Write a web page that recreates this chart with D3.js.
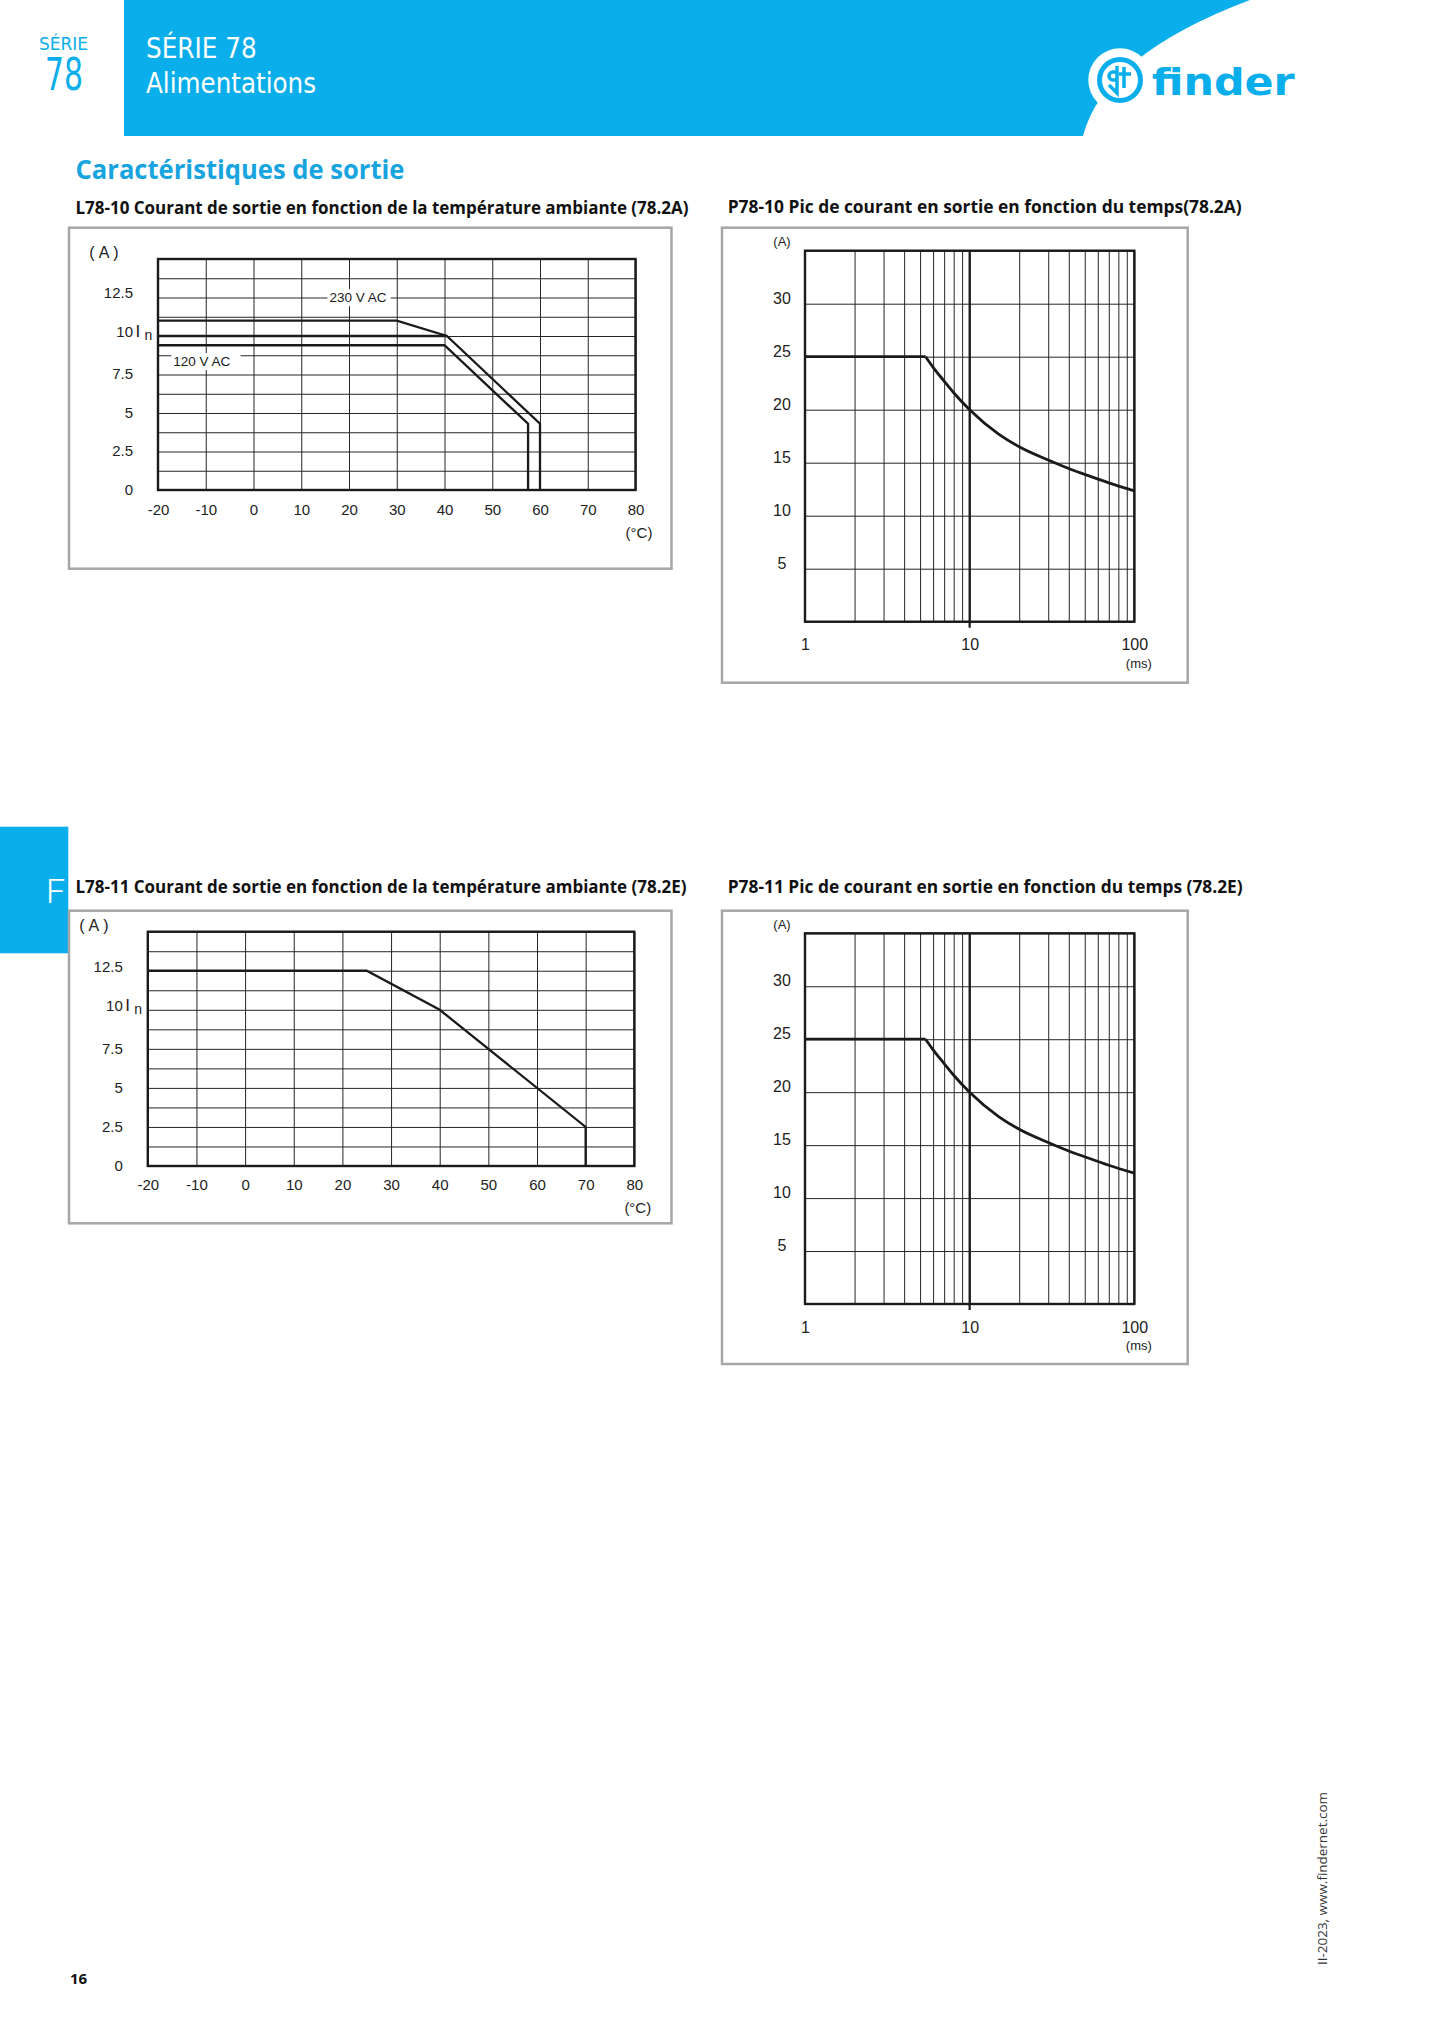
<!DOCTYPE html>
<html>
<head>
<meta charset="utf-8">
<script src="https://cdn.jsdelivr.net/npm/d3@7"></script>
<style>
  body { margin: 0; background: #fff; }
  svg { display: block; }
</style>
</head>
<body>
<svg id="page" width="1442" height="2040"></svg>
<script>
// ---- data ----
const tempTicks = [-20, -10, 0, 10, 20, 30, 40, 50, 60, 70, 80];
const ampLabels = [0, 2.5, 5, 7.5, 10, 12.5];
const ampGrid = [0, 1.25, 2.5, 3.75, 5, 6.25, 7.5, 8.75, 10, 11.25, 12.5, 13.75, 15];

// L78-10 (78.2A) derating curves, [°C, A]
const l7810Ac230 = [[-20, 11], [30, 11], [40.5, 10], [60, 4.3], [60, 0]];
const l7810Nominal = [[-20, 10], [40.5, 10]];
const l7810Ac120 = [[-20, 9.4], [40, 9.4], [57.5, 4.3], [57.5, 0]];

// L78-11 (78.2E) derating curve
const l7811Curve = [[-20, 12.5], [25, 12.5], [40, 10], [70, 2.5], [70, 0]];

// P78-10 / P78-11 peak current vs time, [ms, A]
const timeTicks = [1, 10, 100];
const timeGrid = [1, 2, 3, 4, 5, 6, 7, 8, 9, 10, 20, 30, 40, 50, 60, 70, 80, 90, 100];
const peakLabels = [5, 10, 15, 20, 25, 30];
const peakGrid = [0, 5, 10, 15, 20, 25, 30, 35];
const peakFlat = [[1, 25], [5.4, 25]];
const peakDecay = [[5.4, 25], [6, 24], [7, 22.7], [8, 21.6], [10, 20], [15, 17.7], [20, 16.5],
                   [30, 15.25], [40, 14.45], [50, 13.9], [70, 13.1], [100, 12.35]];

const BLUE = "#0aaeea";
const TITLE_BLUE = "#17a4df";
const FRAME = "#a6a6a6";
const GRID = "#262626";
const INK = "#1a1a1a";
const ARIAL = "'Liberation Sans', Arial, sans-serif";
const MYRIAD = "'Open Sans', 'Noto Sans', sans-serif";
const DIN = "'Liberation Sans Narrow', 'DejaVu Sans Condensed', 'Roboto', sans-serif";

const page = d3.select("#page");

// ---- header ----
page.append("path")
  .attr("d", "M124,0 H1250 Q1104,55 1083,136 H124 Z")
  .attr("fill", BLUE);

page.append("text").attr("x", 63.5).attr("y", 50)
  .attr("text-anchor", "middle").attr("font-family", DIN).attr("font-size", 18)
  .attr("fill", BLUE).attr("textLength", 49).attr("lengthAdjust", "spacingAndGlyphs")
  .text("SÉRIE");
page.append("text").attr("x", 64).attr("y", 90)
  .attr("text-anchor", "middle").attr("font-family", DIN).attr("font-size", 44)
  .attr("fill", BLUE).attr("textLength", 38).attr("lengthAdjust", "spacingAndGlyphs")
  .text("78");

page.append("text").attr("x", 146).attr("y", 58.3)
  .attr("font-family", DIN).attr("font-size", 28).attr("fill", "#fff")
  .attr("textLength", 110.7).attr("lengthAdjust", "spacingAndGlyphs")
  .text("SÉRIE 78");
page.append("text").attr("x", 146).attr("y", 93.3)
  .attr("font-family", DIN).attr("font-size", 28).attr("fill", "#fff")
  .attr("textLength", 170).attr("lengthAdjust", "spacingAndGlyphs")
  .text("Alimentations");

// finder logo
page.append("circle").attr("cx", 1120).attr("cy", 80).attr("r", 31.7).attr("fill", "#fff");
page.append("circle").attr("cx", 1120).attr("cy", 80).attr("r", 20.5)
  .attr("fill", "none").attr("stroke", BLUE).attr("stroke-width", 5);
page.append("path")
  .attr("d", "M1117,66 V93 L1109,85 M1117,72 H1113 A4,4 0 0 0 1113,80 H1117 M1124,67 V88 M1119,74 H1131")
  .attr("fill", "none").attr("stroke", BLUE).attr("stroke-width", 3.5);
page.append("text").attr("x", 1151.7).attr("y", 95)
  .attr("font-family", "'DejaVu Sans', sans-serif").attr("font-weight", "bold")
  .attr("font-size", 38).attr("fill", BLUE)
  .attr("textLength", 143).attr("lengthAdjust", "spacingAndGlyphs")
  .text("finder");

// section title
page.append("text").attr("x", 75.5).attr("y", 179.3)
  .attr("font-family", MYRIAD).attr("font-weight", "bold").attr("font-size", 27)
  .attr("fill", TITLE_BLUE).attr("textLength", 329).attr("lengthAdjust", "spacingAndGlyphs")
  .text("Caractéristiques de sortie");

// side tab "F"
page.append("rect").attr("x", 0).attr("y", 826.7).attr("width", 68.3).attr("height", 126.6).attr("fill", BLUE);
page.append("text").attr("x", 46).attr("y", 902.7)
  .attr("font-family", "Roboto, 'Open Sans', sans-serif").attr("font-weight", 300)
  .attr("font-size", 34).attr("fill", "#fff").text("F");

// footer
page.append("text").attr("x", 70).attr("y", 1984)
  .attr("font-family", MYRIAD).attr("font-weight", "bold").attr("font-size", 15)
  .attr("fill", "#111").text("16");
page.append("text")
  .attr("transform", "translate(1327,1965) rotate(-90)")
  .attr("font-family", MYRIAD).attr("font-size", 12.5).attr("fill", "#333")
  .attr("textLength", 173).attr("lengthAdjust", "spacingAndGlyphs")
  .text("II-2023, www.findernet.com");

function chartTitle(x, y, w, txt) {
  page.append("text").attr("x", x).attr("y", y)
    .attr("font-family", MYRIAD).attr("font-weight", "bold").attr("font-size", 17)
    .attr("fill", "#111").attr("textLength", w).attr("lengthAdjust", "spacingAndGlyphs")
    .text(txt);
}

function outerBox(b) {
  page.append("rect").attr("x", b[0]).attr("y", b[1])
    .attr("width", b[2] - b[0]).attr("height", b[3] - b[1])
    .attr("fill", "#fff").attr("stroke", FRAME).attr("stroke-width", 2.5);
}

function gridLines(g, axis, tx, ty) {
  g.append("g").attr("transform", `translate(${tx},${ty})`)
    .call(axis)
    .call(a => a.select(".domain").remove())
    .call(a => a.selectAll("text").remove())
    .call(a => a.selectAll("line").attr("stroke", GRID).attr("stroke-width", 1));
}

const plain = d => String(d);   // hyphen minus, like the datasheet

// ---- temperature derating chart ----
function drawTempChart(o) {
  outerBox(o.box);
  const p = o.plot;
  const g = page.append("g");
  const x = d3.scaleLinear().domain([tempTicks[0], tempTicks[tempTicks.length - 1]]).range([p.l, p.r]);
  const y = d3.scaleLinear().domain([0, ampGrid[ampGrid.length - 1]]).range([p.b, p.t]);

  gridLines(g, d3.axisLeft(y).tickValues(ampGrid).tickSize(-(p.r - p.l)).tickFormat(""), p.l, 0);
  gridLines(g, d3.axisBottom(x).tickValues(tempTicks).tickSize(-(p.b - p.t)).tickFormat(""), 0, p.b);

  // curve labels sitting on white boxes
  (o.labels || []).forEach(l => {
    const t = g.append("text")
      .attr("x", x(l.t)).attr("y", y(l.a)).attr("dy", "0.35em")
      .attr("font-family", ARIAL).attr("font-size", 13.5).attr("fill", INK)
      .text(l.text);
    const bb = t.node().getBBox();
    g.insert("rect", () => t.node())
      .attr("x", bb.x - l.pad[0]).attr("y", bb.y - 1)
      .attr("width", bb.width + l.pad[0] + l.pad[1]).attr("height", bb.height + 2)
      .attr("fill", "#fff");
  });

  const line = d3.line().x(d => x(d[0])).y(d => y(d[1]));
  o.curves.forEach(c => {
    g.append("path").datum(c)
      .attr("d", line).attr("fill", "none")
      .attr("stroke", INK).attr("stroke-width", 2.3).attr("stroke-linejoin", "miter");
  });

  g.append("rect").attr("x", p.l).attr("y", p.t)
    .attr("width", p.r - p.l).attr("height", p.b - p.t)
    .attr("fill", "none").attr("stroke", INK).attr("stroke-width", 2.4);

  // tick labels
  const xa = g.append("g").attr("transform", `translate(0,${p.b})`)
    .call(d3.axisBottom(x).tickValues(tempTicks).tickSize(0).tickFormat(plain));
  xa.select(".domain").remove();
  xa.selectAll("text").attr("y", o.xLabelDy).attr("dy", null)
    .attr("font-family", ARIAL).attr("font-size", 15).attr("fill", "#222");

  const lift = d => (d >= 10 ? -5 : -1);
  const ya = g.append("g").attr("transform", `translate(${p.l},0)`)
    .call(d3.axisLeft(y).tickValues(ampLabels).tickSize(0).tickFormat(plain));
  ya.select(".domain").remove();
  ya.selectAll("text").attr("x", -25).attr("dy", "0.35em").attr("y", lift)
    .attr("font-family", ARIAL).attr("font-size", 15).attr("fill", "#222");
  // "10 In": nominal current marker next to the 10 A tick
  const inTick = ya.selectAll(".tick").filter(d => d === 10);
  inTick.append("text").attr("x", -22.5).attr("y", -5.5).attr("dy", "0.35em")
    .attr("text-anchor", "start")
    .attr("font-family", ARIAL).attr("font-size", 17).attr("fill", "#222").text("I");
  inTick.append("text").attr("x", -13.5).attr("y", -1).attr("dy", "0.35em")
    .attr("text-anchor", "start")
    .attr("font-family", ARIAL).attr("font-size", 14).attr("fill", "#222").text("n");

  g.append("text").attr("x", p.l - 52).attr("y", p.t - 6.5).attr("dy", "0.35em")
    .attr("text-anchor", "middle").attr("font-family", ARIAL).attr("font-size", 16)
    .attr("fill", "#222").attr("letter-spacing", 4).text("(A)");
  g.append("text").attr("x", p.r + 3.5).attr("y", p.b + o.unitDy)
    .attr("text-anchor", "middle").attr("font-family", ARIAL).attr("font-size", 15)
    .attr("fill", "#222").text("(°C)");
}

// ---- peak current chart (log time) ----
function drawPeakChart(o) {
  outerBox(o.box);
  const p = o.plot;
  const g = page.append("g");
  const x = d3.scaleLog().domain([timeTicks[0], timeTicks[timeTicks.length - 1]]).range([p.l, p.r]);
  const y = d3.scaleLinear().domain([0, peakGrid[peakGrid.length - 1]]).range([p.b, p.t]);

  gridLines(g, d3.axisLeft(y).tickValues(peakGrid).tickSize(-(p.r - p.l)).tickFormat(""), p.l, 0);
  gridLines(g, d3.axisBottom(x).tickValues(timeGrid).tickSize(-(p.b - p.t)).tickFormat(""), 0, p.b);

  g.append("line").attr("x1", x(10)).attr("x2", x(10))
    .attr("y1", p.t).attr("y2", p.b + 6)
    .attr("stroke", INK).attr("stroke-width", 2.2);

  g.append("path").datum(peakFlat)
    .attr("d", d3.line().x(d => x(d[0])).y(d => y(d[1])))
    .attr("fill", "none").attr("stroke", INK).attr("stroke-width", 2.8);
  g.append("path").datum(peakDecay)
    .attr("d", d3.line().x(d => x(d[0])).y(d => y(d[1])).curve(d3.curveMonotoneX))
    .attr("fill", "none").attr("stroke", INK).attr("stroke-width", 2.8);

  g.append("rect").attr("x", p.l).attr("y", p.t)
    .attr("width", p.r - p.l).attr("height", p.b - p.t)
    .attr("fill", "none").attr("stroke", INK).attr("stroke-width", 2.4);

  const xa = g.append("g").attr("transform", `translate(0,${p.b})`)
    .call(d3.axisBottom(x).tickValues(timeTicks).tickSize(0).tickFormat(plain));
  xa.select(".domain").remove();
  xa.selectAll("text").attr("y", 28.5).attr("dy", null)
    .attr("font-family", ARIAL).attr("font-size", 16).attr("fill", "#222");

  const ya = g.append("g").attr("transform", `translate(${p.l},0)`)
    .call(d3.axisLeft(y).tickValues(peakLabels).tickSize(0).tickFormat(plain));
  ya.select(".domain").remove();
  ya.selectAll("text").attr("x", 782 - p.l).attr("y", -6).attr("dy", "0.35em")
    .attr("text-anchor", "middle")
    .attr("font-family", ARIAL).attr("font-size", 16).attr("fill", "#222");

  g.append("text").attr("x", 782).attr("y", p.t - 9).attr("dy", "0.35em")
    .attr("text-anchor", "middle").attr("font-family", ARIAL).attr("font-size", 13)
    .attr("fill", "#222").text("(A)");
  g.append("text").attr("x", p.r + 4.5).attr("y", p.b + 46)
    .attr("text-anchor", "middle").attr("font-family", ARIAL).attr("font-size", 13)
    .attr("fill", "#222").text("(ms)");
}

// ---- the four charts ----
chartTitle(75.5, 214, 613, "L78-10 Courant de sortie en fonction de la température ambiante (78.2A)");
drawTempChart({
  box: [69, 227.7, 671.5, 568.7],
  plot: { l: 158, t: 259, r: 635.5, b: 490 },
  curves: [l7810Ac230, l7810Nominal, l7810Ac120],
  labels: [
    { text: "230 V AC", t: 15.9, a: 12.5, pad: [2, 4] },
    { text: "120 V AC", t: -16.8, a: 8.35, pad: [2, 10] }
  ],
  xLabelDy: 25,
  unitDy: 48
});

chartTitle(727.7, 213.3, 514, "P78-10 Pic de courant en sortie en fonction du temps(78.2A)");
drawPeakChart({
  box: [722, 227.7, 1187.7, 682.7],
  plot: { l: 805, t: 250.7, r: 1134.3, b: 621.7 }
});

chartTitle(75.5, 892.7, 611, "L78-11 Courant de sortie en fonction de la température ambiante (78.2E)");
drawTempChart({
  box: [69, 910.7, 671.5, 1223.3],
  plot: { l: 147.8, t: 931.7, r: 634.3, b: 1166 },
  curves: [l7811Curve],
  labels: [],
  xLabelDy: 24,
  unitDy: 47
});

chartTitle(727.7, 892.7, 515, "P78-11 Pic de courant en sortie en fonction du temps (78.2E)");
drawPeakChart({
  box: [722, 910.7, 1187.7, 1364],
  plot: { l: 805, t: 933.3, r: 1134.3, b: 1304 }
});
</script>
</body>
</html>
